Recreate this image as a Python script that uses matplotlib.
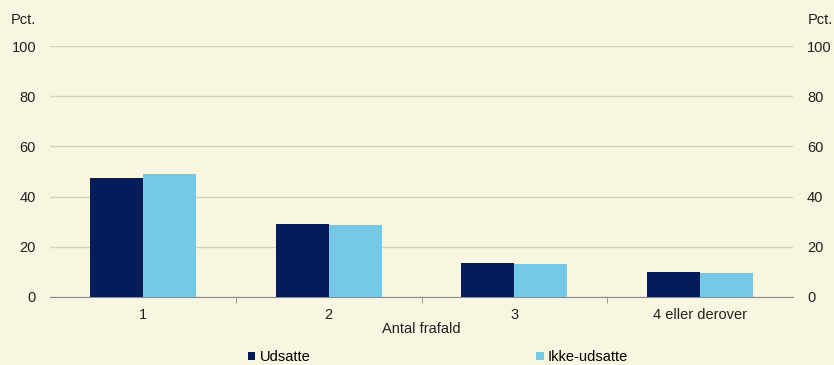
import numpy as np
import matplotlib.pyplot as plt
from matplotlib.ticker import FixedLocator

plt.rcParams['font.family'] = ['Liberation Sans', 'DejaVu Sans']

# Data
categories = ['1', '2', '3', '4 eller derover']
udsatte = [47.6, 29.1, 13.4, 10.1]
ikke_udsatte = [49.0, 28.7, 13.1, 9.4]
yticks = [0, 20, 40, 60, 80, 100]

BG = '#F8F6E0'
DARK = '#041C5A'
LIGHT = '#75C8E6'
TXT = '#222222'
FS = 10.5

fig = plt.figure(figsize=(8.34, 3.65), dpi=100, facecolor=BG)
ax = fig.add_axes([50/834, 68/365, 743/834, 251/365], facecolor=BG)

x = np.arange(len(categories))
w = 0.285
ax.bar(x - w/2, udsatte, w, color=DARK, label='Udsatte', zorder=3)
ax.bar(x + w/2, ikke_udsatte, w, color=LIGHT, label='Ikke-udsatte', zorder=3)

ax.set_xlim(-0.5, len(categories) - 0.5)
ax.set_ylim(0, 100)
ax.set_yticks(yticks)
ax.grid(axis='y', color='#D3D1C0', linewidth=1, zorder=0)
for s in ['top', 'left', 'right']:
    ax.spines[s].set_visible(False)
ax.spines['bottom'].set_color('#8C8C8C')

ax.set_xticks(x)
ax.set_xticklabels(categories, fontsize=FS, color=TXT)
ax.xaxis.set_minor_locator(FixedLocator(np.arange(0.5, len(categories) - 0.5, 1)))
ax.tick_params(axis='x', which='major', length=0, pad=8)
ax.tick_params(axis='x', which='minor', length=4, color='#8C8C8C')
ax.tick_params(axis='y', length=0, pad=10, labelsize=FS, labelcolor=TXT,
               labelright=True)
ax.set_xlabel('Antal frafald', fontsize=FS, color=TXT, labelpad=0)

fig.text(11/834, 1 - 20/365, 'Pct.', fontsize=FS, color=TXT, va='center')
fig.text(808/834, 1 - 20/365, 'Pct.', fontsize=FS, color=TXT, va='center')

fig.legend(loc='center', bbox_to_anchor=(438/834, 1 - 357/365), ncol=2, frameon=False,
           fontsize=FS, handlelength=0.5, handleheight=0.5, handletextpad=0.3,
           columnspacing=15.5)

fig.savefig('out.png', dpi=100, facecolor=BG)
